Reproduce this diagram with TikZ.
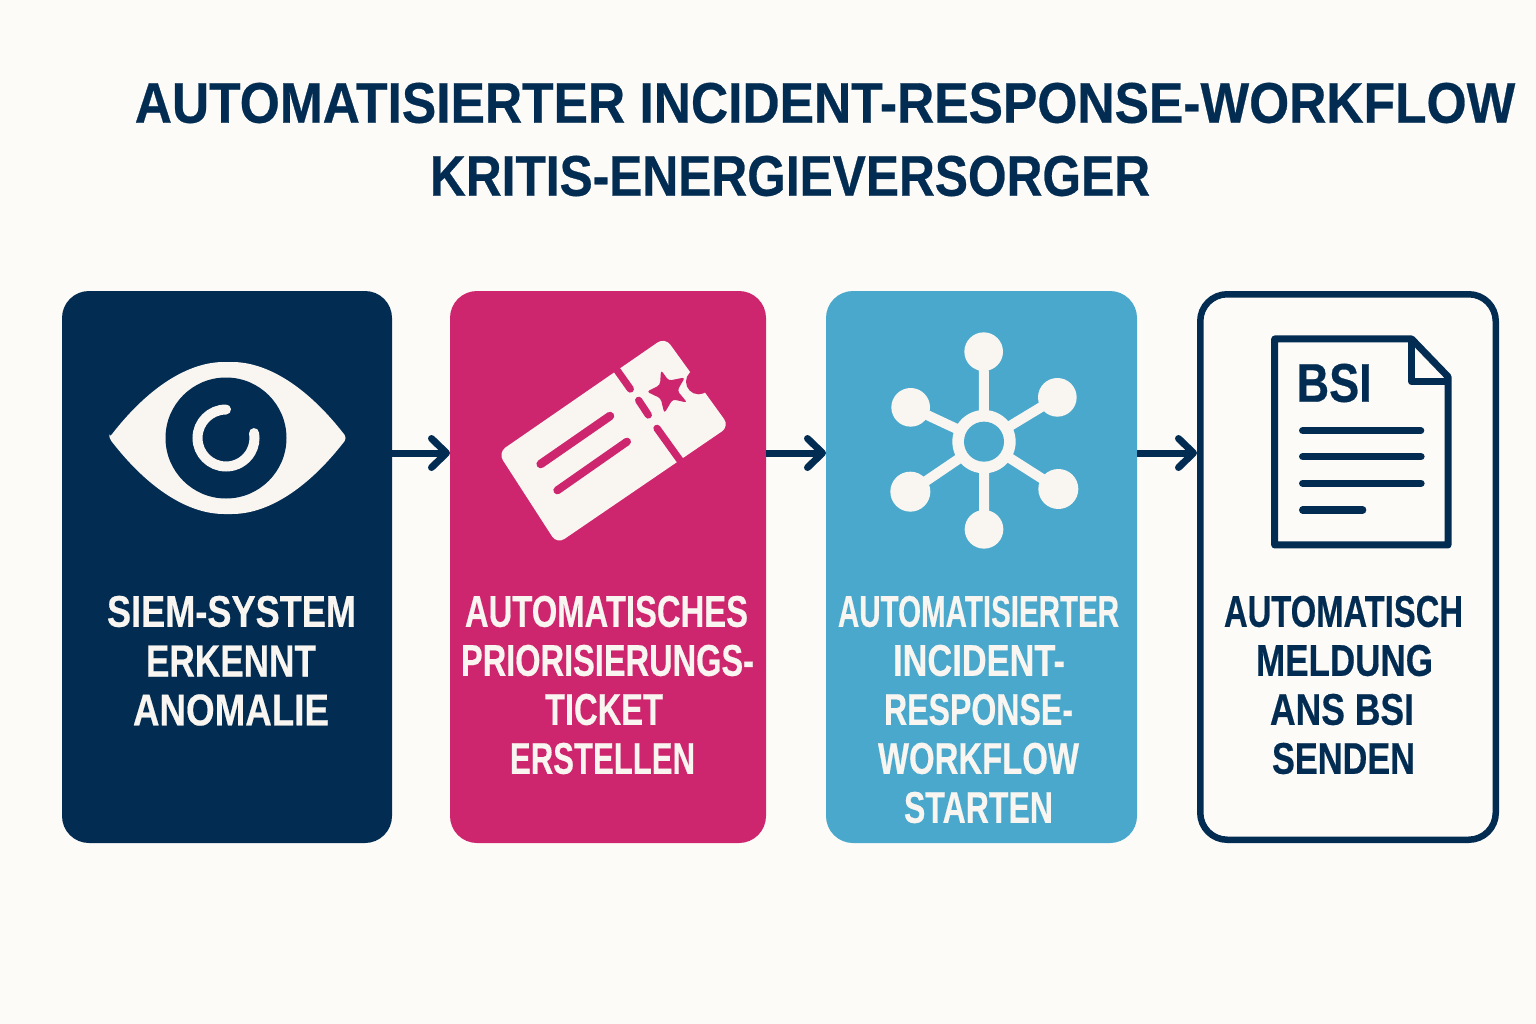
\documentclass[tikz,border=0pt]{standalone}
\usepackage{fontspec}
\usepackage{graphicx}
\usetikzlibrary{arrows.meta,calc}
\setmainfont{Liberation Sans}[BoldFeatures={FakeBold=0.5}]
\definecolor{bgc}{HTML}{FDFBF8}
\definecolor{navy}{HTML}{022C52}
\definecolor{pinkc}{HTML}{CE266E}
\definecolor{bluec}{HTML}{49A8CB}
\definecolor{iconw}{HTML}{F9F6F2}
\newcommand{\fit}[3]{\resizebox{#1pt}{#2pt}{\bfseries #3}}
\tikzset{
  stepbox/.style={rectangle,rounded corners=27pt,inner sep=0pt,outer sep=0pt,anchor=north west},
  lab/.style={inner sep=0pt,outer sep=0pt,anchor=center},
  flow/.style={draw=navy,line width=7pt,-{Straight Barb[round,length=15pt,width=29pt]}},
  zoomed/.style={x=0.33333pt,y=-0.33333pt},
}
\begin{document}
\begin{tikzpicture}[x=1pt,y=-1pt]
\useasboundingbox (0,0) rectangle (1536,1024);
\fill[bgc] (0,0) rectangle (1536,1024);
% title
\node[lab,text=navy] (t1) at (825,103) {\fit{1380}{40}{AUTOMATISIERTER INCIDENT-RESPONSE-WORKFLOW}};
\node[lab,text=navy] (t2) at (790,176) {\fit{720}{40}{KRITIS-ENERGIEVERSORGER}};
% boxes
\node[stepbox,fill=navy,minimum width=330pt,minimum height=552pt] (b1) at (62,291) {};
\node[stepbox,fill=pinkc,minimum width=316pt,minimum height=552pt] (b2) at (450,291) {};
\node[stepbox,fill=bluec,minimum width=311pt,minimum height=552pt] (b3) at (826,291) {};
\node[stepbox,draw=navy,line width=6.5pt,outer sep=3.25pt,fill=bgc,minimum width=295.5pt,minimum height=545.5pt] (b4) at (1197,291) {};
% connectors
\draw[flow] ($(b1.north east)!0.2935!(b1.south east)$) -- ($(b2.north west)!0.2935!(b2.south west)$);
\draw[flow] ($(b2.north east)!0.2935!(b2.south east)$) -- ($(b3.north west)!0.2935!(b3.south west)$);
\draw[flow] ($(b3.north east)!0.2935!(b3.south east)$) -- ($(b4.north west)!0.2935!(b4.south west)$);
% labels
\begin{scope}[every node/.append style={lab,text=iconw}]
\node (a1) at (231.5,611.5) {\fit{249}{31}{SIEM-SYSTEM}};
\node (a2) at (231,661) {\fit{170}{31}{ERKENNT}};
\node (a3) at (231,710) {\fit{196}{31}{ANOMALIE}};
\node (c1) at (606.5,611.5) {\fit{283}{31}{AUTOMATISCHES}};
\node (c2) at (607.5,660.5) {\fit{293}{31}{PRIORISIERUNGS-}};
\node (c3) at (604,709.5) {\fit{118}{31}{TICKET}};
\node (c4) at (602.5,758.5) {\fit{185}{31}{ERSTELLEN}};
\node (d1) at (978.5,611.5) {\fit{281}{31}{AUTOMATISIERTER}};
\node (d2) at (979,660.5) {\fit{172}{31}{INCIDENT-}};
\node (d3) at (978.5,709.5) {\fit{189}{31}{RESPONSE-}};
\node (d4) at (978.5,758.5) {\fit{201}{31}{WORKFLOW}};
\node (d5) at (978.5,807.5) {\fit{149}{31}{STARTEN}};
\end{scope}
\begin{scope}[every node/.append style={lab,text=navy}]
\node (e1) at (1343.5,611.5) {\fit{239}{31}{AUTOMATISCH}};
\node (e2) at (1344.5,660.5) {\fit{177}{31}{MELDUNG}};
\node (e3) at (1342,709.5) {\fit{144}{31}{ANS BSI}};
\node (e4) at (1343.5,758.5) {\fit{143}{31}{SENDEN}};
\end{scope}
% eye
\fill[iconw,rounded corners=4pt] (109,438) .. controls (150,385) and (190,362) .. (228,362)
  .. controls (266,362) and (306,385) .. (347,438)
  .. controls (306,491) and (266,514) .. (228,514)
  .. controls (190,514) and (150,491) .. (109,438) -- cycle;
\fill[navy] (226,438) circle (60.5);
\draw[iconw,line width=10pt,line cap=round] (226,409.5) arc[start angle=-90,delta angle=-280,radius=28.5];
% ticket
\begin{scope}[shift={(480,320)},zoomed]
\fill[iconw,rounded corners=9pt] (54,398) -- (555,52) -- (748,319) -- (231,672) -- cycle;
\fill[pinkc] (656,185) circle (38);
\draw[pinkc,line width=7.3pt,line cap=round] (400,135) -- (451,207);
\draw[pinkc,line width=7.3pt,line cap=round] (476,241) -- (505,285);
\draw[pinkc,line width=7.3pt,line cap=round] (531,325) -- (615,442);
\draw[pinkc,line width=8.5pt,line cap=round] (182,432) -- (390,288);
\draw[pinkc,line width=8pt,line cap=round] (232,511) -- (441,365);
\fill[pinkc,rounded corners=3pt] (543,150) -- (566,182) -- (615,172) -- (592,212) -- (622,248) -- (578,238) -- (553,280) -- (542,235) -- (500,215) -- (540,195) -- cycle;
\end{scope}
% network
\begin{scope}[shift={(870,320)},zoomed]
\draw[iconw,line width=10pt] (342,365) -- (341,95) (342,365) -- (562,232) (342,365) -- (565,507) (342,365) -- (342,628) (342,365) -- (121,515) (342,365) -- (122,262);
\fill[iconw] (341,95) circle (58) (562,232) circle (58) (565,507) circle (60) (342,628) circle (58) (121,515) circle (60) (122,262) circle (58);
\fill[iconw] (342,365) circle (95);
\fill[bluec] (342,365) circle (60);
\end{scope}
% document
\begin{scope}[shift={(1130,280)},zoomed]
\draw[navy,line width=7pt,line join=round] (845,177) -- (434,177) -- (434,795) -- (954,795) -- (954,290) -- cycle;
\draw[navy,line width=7pt,line join=round] (845,177) -- (845,305) -- (954,305);
\node[lab,text=navy] (bsi) at (612.5,309) {\fit{75}{38}{BSI}};
\draw[navy,line width=7.3pt,line cap=round] (518,452) -- (872,452) (518,530) -- (873,530) (518,610) -- (873,610) (518,690) -- (698,690);
\end{scope}
\end{tikzpicture}
\end{document}
